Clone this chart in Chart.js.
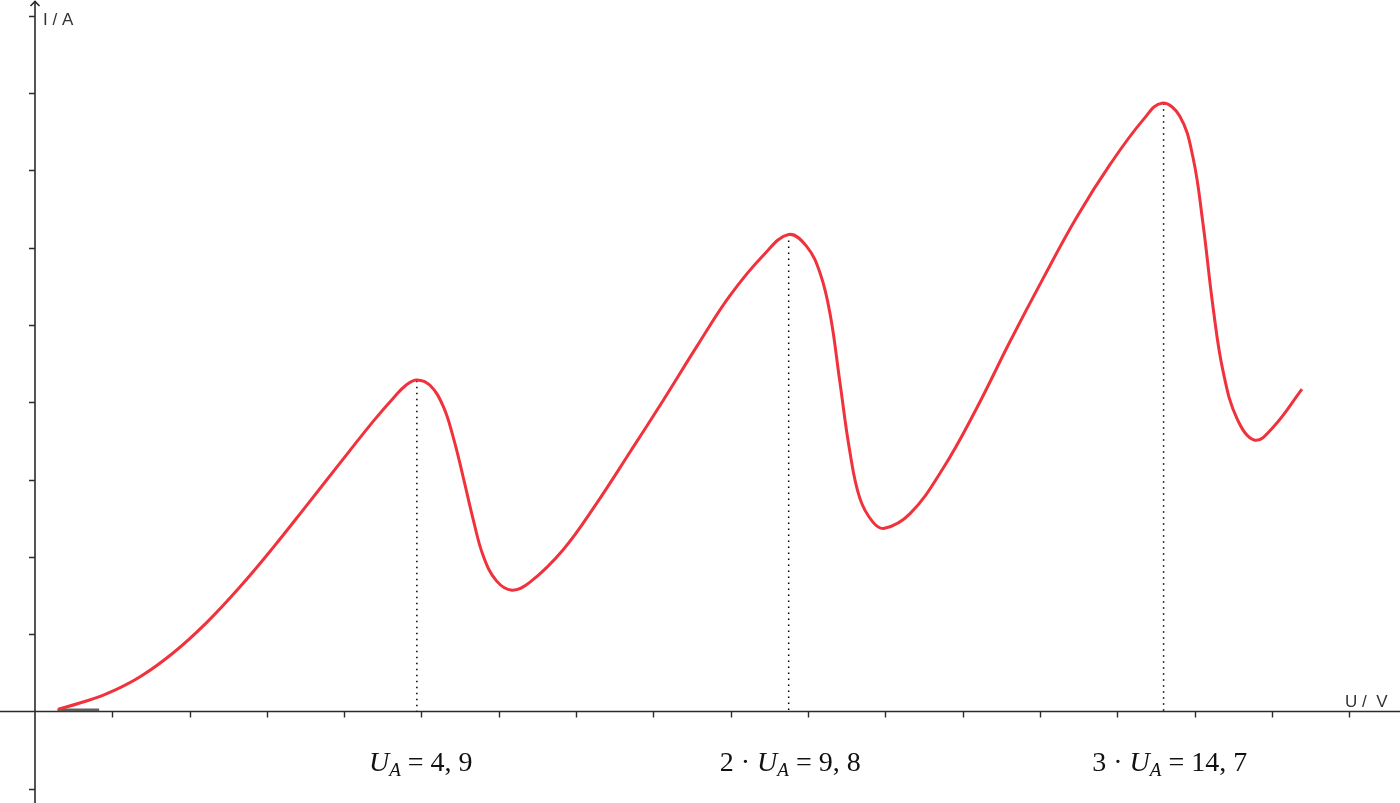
<!DOCTYPE html>
<html lang="de">

<head>
    <meta charset="UTF-8">
    <title>Franck-Hertz Kennlinie</title>
    <script src="https://cdn.jsdelivr.net/npm/chart.js"></script>
    <style>
        body {
            margin: 0;
            background: #fff;
        }

        #wrap {
            width: 1400px;
            height: 803px;
            position: relative;
        }
    </style>
</head>

<body>
    <div id="wrap"><canvas id="curve"></canvas></div>

    <script>
        const voltage = [0.30, 0.58, 0.93, 1.36, 1.79, 2.22, 2.65, 3.08, 3.51, 3.95, 4.38, 4.64, 4.81, 4.94,
            5.11, 5.28, 5.41, 5.54, 5.67, 5.80, 5.97, 6.17, 6.40, 6.83, 7.27, 7.70, 8.13, 8.56, 8.99, 9.42,
            9.75, 9.98, 10.16, 10.29, 10.41, 10.54, 10.67, 10.84, 10.99, 11.32, 11.75, 12.18, 12.61, 13.04,
            13.48, 13.91, 14.34, 14.58, 14.81, 14.98, 15.11, 15.24, 15.37, 15.55, 15.78, 16.02, 16.39];
        const current = [0.03, 0.11, 0.23, 0.45, 0.76, 1.15, 1.61, 2.12, 2.66, 3.22, 3.76, 4.06, 4.23, 4.29,
            4.22, 3.95, 3.55, 3.03, 2.48, 2.01, 1.69, 1.57, 1.67, 2.09, 2.70, 3.36, 4.03, 4.72, 5.38, 5.90,
            6.17, 6.02, 5.66, 5.12, 4.28, 3.37, 2.76, 2.45, 2.37, 2.56, 3.15, 3.92, 4.78, 5.60,
            6.40, 7.08, 7.66, 7.87, 7.70, 7.17, 6.31, 5.23, 4.40, 3.79, 3.51, 3.68, 4.17];

        // Maxima (gepunktete Linien) und Beschriftungen
        const peakU = [4.94, 9.75, 14.6];
        const peakI = [4.28, 6.17, 7.87];
        const labelU = [4.99, 9.77, 14.68];
        const labelFactor = ['', '2', '3'];
        const labelValue = ['4, 9', '9, 8', '14, 7'];

        // kurzes graues Stueck auf der U-Achse
        const baseU = [0.29, 0.83];
        const baseI = [0.02, 0.02];

        const xTicks = [1, 2, 3, 4, 5, 6, 7, 8, 9, 10, 11, 12, 13, 14, 15, 16, 17];
        const yTicks = [-1, 1, 2, 3, 4, 5, 6, 7, 8, 9];

        const unit = 77.3;
        const xMin = -35 / unit, xMax = (1400 - 35) / unit;
        const yMax = 711.5 / unit, yMin = -(803 - 711.5) / unit;

        const curvePts = voltage.map((u, i) => ({ x: u, y: current[i] }));
        const basePts = baseU.map((u, i) => ({ x: u, y: baseI[i] }));

        const dotted = peakU.map((u, i) => ({
            data: [{ x: u, y: peakI[i] }, { x: u, y: 0 }],
            borderColor: '#000',
            borderWidth: 1.5,
            borderDash: [1.5, 4.5],
            pointRadius: 0,
            tension: 0
        }));

        function mathLabel(ctx, parts, cx, by) {
            let total = 0;
            parts.forEach(p => {
                ctx.font = p.font;
                p.w = ctx.measureText(p.t).width;
                total += p.w;
            });
            let x = cx - total / 2;
            parts.forEach(p => {
                ctx.font = p.font;
                ctx.fillText(p.t, x, by + (p.dy || 0));
                x += p.w;
            });
        }

        const axesPlugin = {
            id: 'axes',
            beforeDatasetsDraw(chart) {
                const ctx = chart.ctx;
                const sx = chart.scales.x, sy = chart.scales.y;
                const ox = sx.getPixelForValue(0), oy = sy.getPixelForValue(0);
                ctx.save();
                ctx.strokeStyle = '#2b2b2b';
                ctx.lineWidth = 1.6;
                ctx.beginPath();
                ctx.moveTo(0, oy); ctx.lineTo(1400, oy);
                ctx.moveTo(ox, 803); ctx.lineTo(ox, 1);
                ctx.stroke();
                // Pfeil oben
                ctx.beginPath();
                ctx.moveTo(ox - 4.5, 6); ctx.lineTo(ox, 1.5); ctx.lineTo(ox + 4.5, 6);
                ctx.stroke();
                // Ticks
                ctx.lineWidth = 1.4;
                ctx.beginPath();
                xTicks.forEach(v => {
                    const px = Math.round(sx.getPixelForValue(v)) + 0.5;
                    ctx.moveTo(px, oy); ctx.lineTo(px, oy + 6);
                });
                yTicks.forEach(v => {
                    const py = Math.round(sy.getPixelForValue(v)) + 0.5;
                    ctx.moveTo(ox, py); ctx.lineTo(ox - 6, py);
                });
                ctx.stroke();

                // Achsenbeschriftung
                ctx.fillStyle = '#333';
                ctx.font = '17px "Liberation Sans"';
                ctx.textBaseline = 'alphabetic';
                ctx.fillText('I / A', ox + 8, 25);
                ctx.fillText('U /  V', 1345, oy - 5);

                // Formeln unter der Achse
                ctx.fillStyle = '#111';
                const it = 'italic 28px "Liberation Serif"';
                const rm = '28px "Liberation Serif"';
                const sub = 'italic 19px "Liberation Serif"';
                const by = sy.getPixelForValue(-0.77);
                labelU.forEach((u, i) => {
                    const parts = [];
                    if (labelFactor[i]) parts.push({ t: labelFactor[i] + ' \u00b7 ', font: rm });
                    parts.push({ t: 'U', font: it });
                    parts.push({ t: 'A', font: sub, dy: 5 });
                    parts.push({ t: ' = ' + labelValue[i], font: rm });
                    mathLabel(ctx, parts, sx.getPixelForValue(u), by);
                });
                ctx.restore();
            }
        };

        new Chart(document.getElementById('curve'), {
            type: 'line',
            data: {
                datasets: [
                    {
                        data: curvePts,
                        borderColor: '#f0323c',
                        borderWidth: 3,
                        pointRadius: 0,
                        tension: 0.4
                    },
                    {
                        data: basePts,
                        borderColor: 'rgba(70,70,70,0.85)',
                        borderWidth: 3,
                        pointRadius: 0
                    },
                    ...dotted
                ]
            },
            options: {
                responsive: true,
                maintainAspectRatio: false,
                animation: false,
                layout: { padding: 0 },
                plugins: {
                    legend: { display: false },
                    tooltip: { enabled: false }
                },
                scales: {
                    x: { type: 'linear', min: xMin, max: xMax, display: false },
                    y: { type: 'linear', min: yMin, max: yMax, display: false }
                }
            },
            plugins: [axesPlugin]
        });
    </script>
</body>

</html>
